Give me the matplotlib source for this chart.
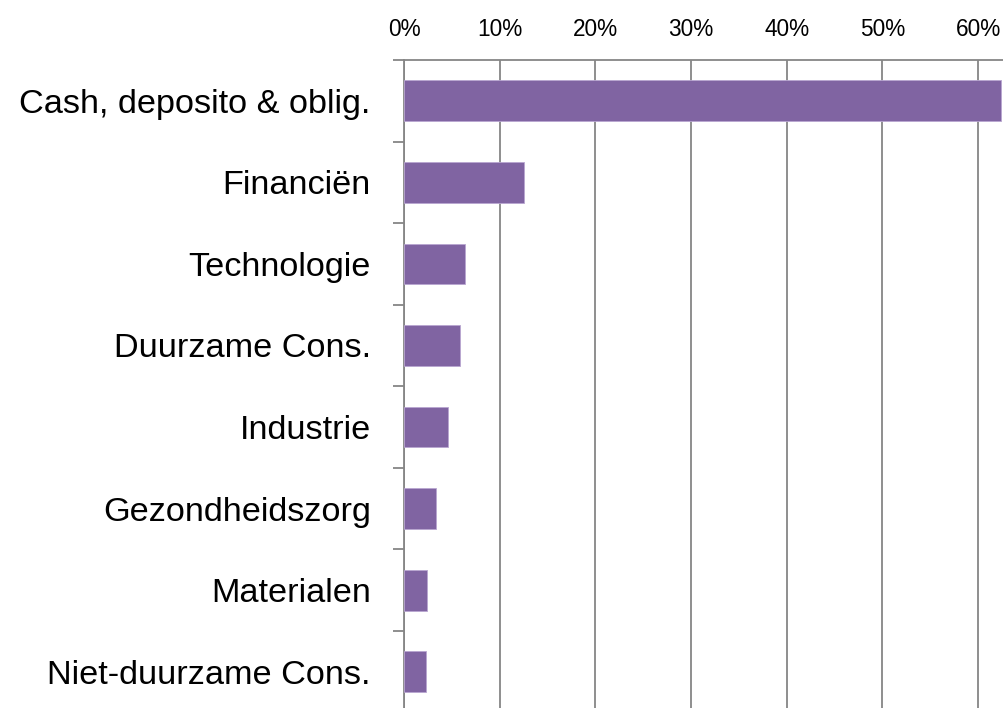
import numpy as np
import matplotlib.pyplot as plt
from matplotlib.ticker import PercentFormatter, FixedLocator

categories = ["Cash, deposito & oblig.", "Financiën", "Technologie", "Duurzame Cons.",
              "Industrie", "Gezondheidszorg", "Materialen", "Niet-duurzame Cons."]
weights = [62.4, 12.5, 6.4, 5.9, 4.6, 3.3, 2.4, 2.3]

plt.rcParams['font.family'] = ['Liberation Sans', 'DejaVu Sans']
bar_col = '#8064A2'
line_col = '#868686'

fig = plt.figure(figsize=(10.04, 7.08), dpi=100)
# axes placed so 0% sits at x=404 px and the top spine at y=60 px
ax = fig.add_axes([0.4024, -0.0065, 0.6672, 0.9218])

y = np.arange(len(categories))
ax.barh(y, weights, height=0.5, color=bar_col, edgecolor='#b9a6d0', linewidth=0.6, zorder=3)

ax.set_xlim(0, 70)
ax.set_ylim(len(categories) - 0.5, -0.5)
ax.xaxis.set_major_locator(FixedLocator(np.arange(0, 71, 10)))
ax.xaxis.set_major_formatter(PercentFormatter(decimals=0))
ax.xaxis.tick_top()
ax.tick_params(axis='x', length=0, pad=14, labelsize=16.3, colors='black')
ax.grid(axis='x', color=line_col, linewidth=1.3, zorder=0)

ax.set_yticks(y)
ax.set_yticklabels(categories)
ax.set_yticks(np.arange(-0.5, len(categories) + 0.5, 1), minor=True)
ax.tick_params(axis='y', which='major', length=0, pad=24, labelsize=24.7)
ax.tick_params(axis='y', which='minor', length=8, width=1.3, color=line_col)

for side in ['right', 'bottom']:
    ax.spines[side].set_visible(False)
for side in ['top', 'left']:
    ax.spines[side].set_color(line_col)
    ax.spines[side].set_linewidth(1.3)

fig.savefig('out.png', dpi=100)
